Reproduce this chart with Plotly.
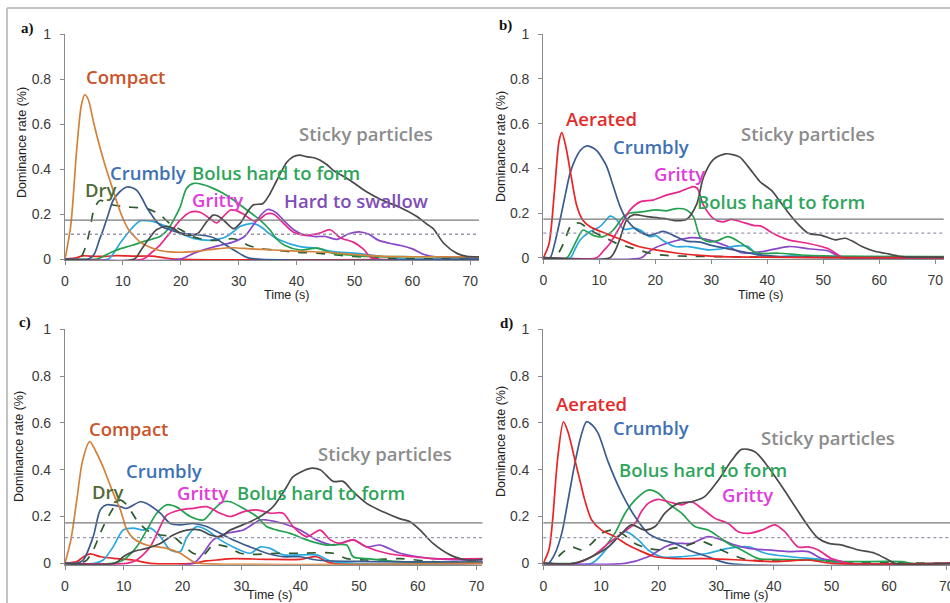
import plotly.graph_objects as go

# ---------------- data (time s, dominance rate) ----------------
# Panel a
A_COMPACT = [(0,0),(1,0.15),(2,0.48),(2.8,0.68),(3.4,0.73),(4,0.71),(5,0.6),(6,0.5),(7,0.41),(8,0.33),(9,0.25),(10,0.18),(11,0.13),(12,0.1),(13,0.075),(14,0.06),(16,0.04),(18,0.032),(20,0.03),(23,0.035),(26,0.045),(29,0.05),(32,0.045),(36,0.04),(40,0.035),(45,0.03),(50,0.02),(55,0.012),(60,0.01),(72,0.01)]
A_DRY = [(0,0),(2.5,0),(3.5,0.05),(4.3,0.13),(5,0.22),(6,0.26),(7,0.255),(8.3,0.24),(10.5,0.232),(12.5,0.228),(14,0.225),(15.5,0.21),(16.5,0.195),(18,0.16),(20,0.13),(22,0.1),(25,0.083),(27,0.085),(29,0.09),(30.5,0.08),(31.5,0.062),(33.5,0.048),(36,0.04),(40,0.03),(44,0.025),(48,0.015),(52,0.008),(56,0.003),(72,0)]
A_CRUMBLY = [(0,0),(4,0),(5,0.02),(6,0.09),(6.6,0.13),(7.5,0.2),(8.3,0.26),(9.5,0.3),(10.7,0.32),(11.5,0.318),(12.4,0.305),(13.3,0.27),(14.1,0.23),(15,0.195),(15.8,0.166),(17,0.14),(18.1,0.13),(19.9,0.115),(23.3,0.107),(25,0.1),(26.2,0.088),(27.3,0.07),(28.5,0.05),(29.6,0.033),(30.8,0.015),(32,0.003),(72,0)]
A_CYAN = [(0,0),(7.5,0),(8.5,0.03),(9.5,0.07),(10.7,0.11),(11.8,0.144),(13,0.17),(14,0.17),(15.3,0.166),(16.5,0.155),(17.6,0.144),(18.8,0.13),(19.9,0.114),(22.2,0.092),(25,0.083),(26.5,0.088),(27.9,0.1),(29,0.12),(30.2,0.144),(31.5,0.155),(32.5,0.158),(34.2,0.137),(35,0.118),(37.1,0.084),(40.6,0.055),(43.5,0.048),(46.3,0.033),(50.5,0.025),(55,0.01),(58,0.002),(72,0)]
A_BOLUS = [(0,0),(5.5,0),(6.5,0.01),(8,0.03),(9.5,0.045),(11.5,0.06),(13.5,0.077),(15,0.088),(16.4,0.1),(17.3,0.118),(18.1,0.144),(19,0.185),(19.9,0.232),(21,0.314),(22.2,0.336),(23.9,0.33),(25.6,0.314),(27.3,0.292),(29.1,0.262),(31.4,0.218),(33.7,0.173),(35.4,0.129),(36.5,0.09),(38,0.06),(40.6,0.04),(43.5,0.048),(46.3,0.025),(49.2,0.018),(52,0.012),(60,0.01),(72,0.01)]
A_GRITTY = [(0,0),(13.5,0),(15,0.03),(16.4,0.062),(18.1,0.115),(19.9,0.173),(21.6,0.208),(23.3,0.208),(25,0.18),(26.2,0.16),(27.2,0.185),(28.6,0.218),(29.6,0.215),(30.8,0.2),(32.5,0.17),(33.5,0.175),(34.8,0.2),(36,0.2),(37.5,0.165),(39.4,0.12),(41.5,0.105),(44,0.115),(45.8,0.13),(47.5,0.095),(49.8,0.075),(51.5,0.045),(53,0.005),(72,0)]
A_STICKY = [(0,0),(12,0),(13,0.035),(14.5,0.09),(15.8,0.13),(17.6,0.145),(18.8,0.135),(19.9,0.115),(21.5,0.105),(23,0.115),(24.3,0.16),(25.6,0.195),(26.5,0.19),(27.5,0.17),(29.1,0.135),(30.3,0.16),(31.4,0.205),(32.5,0.24),(34.2,0.247),(35.4,0.29),(36.6,0.35),(38.3,0.43),(39.4,0.455),(40.5,0.462),(41.7,0.455),(43,0.45),(44,0.44),(45.2,0.42),(46.3,0.395),(49.2,0.35),(52,0.3),(54.9,0.26),(57.8,0.23),(60.7,0.19),(62.5,0.155),(63.6,0.135),(65.4,0.07),(67.7,0.025),(69.4,0.012),(72,0.01)]
A_HARD = [(0,0),(20,0),(22.2,0.025),(24.5,0.045),(27,0.062),(29,0.075),(31,0.1),(32.5,0.15),(34,0.2),(35,0.22),(36.5,0.205),(38,0.165),(39.5,0.13),(41,0.11),(43,0.1),(45,0.1),(47,0.087),(49,0.112),(51,0.12),(52.5,0.11),(54,0.085),(56,0.07),(58,0.06),(60,0.045),(62,0.02),(64,0.01),(72,0.01)]
A_RED = [(0,0),(2,0.005),(3,0.014),(5,0.012),(7,0.012),(9,0.015),(12,0.013),(15,0.013),(17,0.006),(19,0),(72,0)]

# Panel b
B_AERATED = [(0,0),(1,0.06),(2,0.3),(2.8,0.52),(3.3,0.56),(4,0.5),(5,0.36),(6,0.23),(7,0.17),(8.3,0.14),(11,0.11),(14,0.08),(17,0.05),(20,0.035),(24,0.02),(28,0.01),(32,0.005),(72,0)]
B_CRUMBLY = [(0,0),(1.2,0),(2,0.06),(3,0.17),(4,0.29),(4.8,0.38),(5.7,0.44),(6.6,0.48),(7.7,0.5),(8.6,0.495),(9.5,0.48),(10.4,0.45),(11.3,0.41),(12.5,0.32),(13.7,0.23),(14.9,0.17),(16.7,0.124),(19,0.1),(21.4,0.118),(23.2,0.1),(25.6,0.074),(28,0.07),(30,0.055),(34,0.035),(38,0.015),(42,0.005),(72,0)]
B_CYAN = [(0,0),(4.8,0),(5.7,0.04),(6.6,0.08),(8.3,0.116),(10.1,0.139),(11.1,0.165),(11.9,0.186),(13.1,0.17),(14.3,0.128),(15.2,0.128),(16.1,0.132),(17.3,0.124),(19,0.094),(20.2,0.098),(21.2,0.08),(23.5,0.05),(26,0.05),(29.5,0.035),(32,0.04),(34.2,0.052),(36.6,0.05),(38,0.015),(40,0.005),(45,0.008),(50,0.003),(72,0)]
B_BOLUS = [(0,0),(4.2,0),(5,0.03),(6,0.08),(7.1,0.124),(8.9,0.1),(10.7,0.094),(12.5,0.124),(14.3,0.184),(15.5,0.2),(17.9,0.206),(20.2,0.214),(22,0.21),(23.8,0.22),(25.6,0.214),(26.8,0.184),(28,0.094),(29.5,0.072),(31,0.075),(33,0.094),(35.4,0.064),(37,0.035),(38.4,0.02),(42,0.02),(46,0.012),(50,0.008),(72,0.005)]
B_GRITTY = [(0,0),(9.5,0),(10.7,0.03),(11.9,0.064),(13.7,0.139),(15.5,0.214),(17.3,0.25),(19.6,0.258),(22,0.28),(24.4,0.296),(26.8,0.318),(27.5,0.31),(28.6,0.235),(30.4,0.175),(32,0.16),(33.6,0.172),(35.4,0.16),(37.5,0.145),(39,0.14),(40.8,0.112),(43.8,0.08),(47.3,0.064),(50.9,0.04),(52.5,0.015),(53.5,0),(72,0)]
B_STICKY = [(0,0),(11.9,0),(12.8,0.03),(13.7,0.085),(14.9,0.17),(16.1,0.192),(18.5,0.184),(21.4,0.176),(23.8,0.166),(25.6,0.172),(27.4,0.24),(28.6,0.36),(30.4,0.44),(32.5,0.465),(34,0.46),(35.1,0.45),(36.5,0.41),(37.5,0.378),(38.7,0.34),(40.8,0.3),(42.3,0.25),(43.8,0.2),(45.5,0.15),(47.3,0.11),(49.7,0.1),(52.1,0.08),(53.9,0.087),(55.5,0.07),(56.9,0.05),(59,0.03),(61,0.02),(64,0.005),(72,0.003)]
B_DRY = [(0,0),(1.8,0),(2.8,0.025),(3.6,0.064),(4.8,0.139),(5.4,0.154),(6.6,0.154),(8.3,0.124),(10.7,0.094),(13.1,0.064),(16.1,0.042),(19,0.02),(22,0.01),(30,0.005),(72,0)]
B_PURPLE = [(0,0),(17.5,0),(18.5,0.02),(20,0.045),(23.5,0.075),(26.5,0.09),(29.5,0.08),(33,0.05),(35.4,0.022),(39,0.027),(43.8,0.05),(47.3,0.04),(50.9,0.03),(53.3,0.002),(72,0)]

# Panel c
C_COMPACT = [(0,0),(1,0.1),(2,0.27),(3,0.44),(4.2,0.52),(5.2,0.48),(6.5,0.41),(8.2,0.3),(9.4,0.23),(10.5,0.145),(11.6,0.107),(13.9,0.078),(17.3,0.064),(19.6,0.043),(21.8,0.007),(23,0),(72,0)]
C_CRUMBLY = [(0,0),(2,0),(3.1,0.014),(4.8,0.114),(6,0.228),(7.1,0.25),(9.4,0.242),(10.5,0.235),(12.8,0.263),(13.9,0.256),(16.2,0.214),(17.9,0.17),(19.6,0.164),(21.8,0.17),(24.1,0.157),(26.4,0.128),(28.6,0.1),(31.5,0.07),(34.3,0.043),(37.1,0.028),(40,0.028),(42.8,0.014),(50,0.008),(72,0.005)]
C_DRY = [(0,0),(2.5,0),(3.7,0.014),(4.8,0.057),(6.5,0.157),(8.2,0.235),(9.4,0.27),(10.5,0.25),(12.2,0.185),(13.9,0.142),(16.2,0.121),(18.4,0.114),(20.1,0.078),(21.8,0.043),(23.5,0.035),(25.2,0.078),(27.5,0.071),(29.8,0.043),(32,0.038),(36,0.042),(40,0.043),(45.6,0.043),(47.9,0.02),(51.3,0.014),(57,0.02),(62.6,0.007),(72,0.005)]
C_CYAN = [(0,0),(5,0),(6.5,0.014),(8.2,0.071),(9.9,0.142),(11.6,0.15),(13.3,0.142),(14.5,0.15),(16.2,0.114),(17.9,0.057),(19.6,0.05),(20.7,0.11),(22.4,0.157),(24.1,0.142),(26.4,0.1),(28.6,0.07),(31.5,0.043),(33.2,0.07),(34.9,0.064),(37.1,0.036),(42.8,0.036),(45.6,0.007),(72,0)]
C_BOLUS = [(0,0),(8,0),(9.9,0.014),(12.2,0.071),(13.9,0.142),(15.6,0.214),(17.3,0.25),(19,0.24),(21.3,0.2),(23.5,0.185),(25.2,0.228),(26.9,0.263),(28.1,0.263),(30.3,0.235),(32.6,0.2),(34.3,0.157),(36,0.142),(38.3,0.128),(41.1,0.1),(44.5,0.078),(47.9,0.078),(49,0.028),(51.3,0.02),(57,0.007),(72,0.005)]
C_GRITTY = [(0,0),(10.5,0),(12.2,0.014),(14.5,0.071),(16.2,0.157),(17.3,0.206),(19.6,0.228),(21.8,0.235),(24.1,0.242),(26.4,0.214),(28.1,0.2),(30.3,0.22),(32.6,0.228),(34.9,0.214),(37.1,0.214),(38.8,0.157),(41.1,0.114),(43.4,0.142),(45.1,0.1),(46.8,0.085),(49,0.1),(51.3,0.07),(54.7,0.043),(59.2,0.028),(62.6,0.02),(72,0.02)]
C_STICKY = [(0,0),(8.5,0),(9.9,0.028),(11.6,0.05),(13.9,0.064),(16.2,0.085),(18.4,0.121),(20.7,0.142),(23,0.142),(24.7,0.121),(26.4,0.114),(28.1,0.142),(30.9,0.171),(33.2,0.2),(35.4,0.242),(37.7,0.327),(38.8,0.37),(41.7,0.406),(43.4,0.4),(45.6,0.35),(47.3,0.35),(49,0.306),(51.3,0.256),(54.1,0.22),(57,0.19),(58.7,0.178),(60.4,0.142),(62.6,0.085),(65.5,0.036),(68.3,0.014),(72,0.02)]
C_PURPLE = [(0,0),(21.8,0),(23.5,0.043),(25.2,0.1),(27.5,0.128),(30.3,0.142),(33.2,0.185),(34.3,0.185),(37.1,0.17),(40,0.142),(42.8,0.1),(45.6,0.078),(49,0.1),(51.3,0.07),(53.6,0.078),(57,0.043),(62.6,0.02),(72,0.014)]
C_RED = [(0,0),(2,0.007),(3,0.025),(4.3,0.04),(6,0.028),(8.8,0.02),(11.6,0.014),(14.5,0),(21.8,0),(24,0.01),(25.8,0.014),(28.6,0.02),(34.3,0.017),(40,0.017),(42.8,0.028),(45,0.003),(72,0)]

# Panel d
D_AERATED = [(0,0),(1,0.06),(1.6,0.18),(2.5,0.45),(3.5,0.605),(4.3,0.56),(5.5,0.44),(6.4,0.35),(7.2,0.27),(8.4,0.185),(10.1,0.142),(12.4,0.114),(14.7,0.078),(17.1,0.05),(19.4,0.028),(22.8,0.02),(28.6,0.02),(34.4,0.014),(40.2,0.007),(46,0.014),(50,0),(72,0)]
D_CRUMBLY = [(0,0),(0.9,0),(2,0.04),(3.2,0.128),(4.3,0.27),(5.5,0.43),(6.5,0.54),(7.5,0.605),(8.5,0.59),(9.5,0.556),(11.3,0.43),(13.6,0.3),(15.9,0.2),(18.2,0.128),(20.5,0.1),(22.8,0.085),(25.2,0.057),(28.6,0.028),(32.1,0),(72,0)]
D_BOLUS = [(0,0),(4.9,0),(7.2,0.014),(10.1,0.057),(12.4,0.128),(14.2,0.214),(15.9,0.27),(18.2,0.313),(19.9,0.3),(21.7,0.256),(24,0.214),(26.3,0.157),(28.6,0.142),(30.4,0.114),(32.1,0.085),(34.4,0.057),(37.3,0.02),(40.2,0.017),(46,0.014),(51.8,0.007),(62.2,0.007),(64,0),(72,0)]
D_GRITTY = [(0,0),(5.5,0),(8.4,0.028),(11.3,0.085),(13.6,0.128),(15.9,0.17),(17,0.22),(18.2,0.256),(19.9,0.273),(21.7,0.263),(24,0.25),(25.7,0.263),(27.5,0.235),(29.8,0.192),(32.1,0.17),(33.8,0.135),(35.6,0.128),(37.9,0.142),(40.2,0.164),(41.9,0.135),(44.2,0.07),(46,0.07),(47.7,0.057),(50,0.02),(51.8,0.007),(53,0),(72,0)]
D_STICKY = [(0,0),(5.5,0),(8.4,0.028),(11.3,0.07),(13.6,0.128),(15.3,0.164),(17.6,0.142),(19.4,0.157),(21.1,0.214),(23.4,0.256),(25.7,0.263),(28,0.285),(30.4,0.356),(32.7,0.44),(34.4,0.487),(36.7,0.477),(39,0.413),(41.4,0.328),(43.7,0.242),(46,0.157),(47.7,0.107),(49.5,0.085),(51.8,0.078),(54.7,0.057),(57.5,0.043),(59.9,0.014),(61,0),(72,0)]
D_PURPLE = [(0,0),(14.2,0),(18.2,0.028),(21.1,0.07),(22.8,0.085),(25.7,0.085),(28.6,0.114),(30.9,0.1),(33.3,0.078),(35.6,0.064),(39,0.057),(42.5,0.05),(46,0.05),(48.3,0.02),(51.8,0.007),(53,0),(72,0)]
D_CYAN = [(0,0),(8.4,0),(11.3,0.07),(14.2,0.135),(16.5,0.1),(18.2,0.057),(20.5,0.028),(24,0.028),(28.6,0.043),(32.1,0.064),(35.6,0.07),(38.5,0.043),(42.9,0.028),(48.9,0.014),(52,0),(72,0)]
D_DRY = [(0,0),(1.4,0),(3.2,0.043),(4.9,0.07),(6.7,0.057),(8.4,0.085),(10.1,0.128),(11.9,0.142),(13.6,0.128),(15.9,0.085),(18.2,0.064),(20.5,0.057),(24,0.07),(27.5,0.093),(29.8,0.07),(32.1,0.043),(35.6,0.014),(40.2,0.014),(46,0.014),(52,0.005),(72,0)]

REF_SOLID = 0.173
REF_DOTTED = 0.11

# curve labels: (text, time, value, colour)
A_LABELS = [("Compact",10.5,0.81,"#C9532B"),("Dry",6.3,0.307,"#4F6A36"),("Crumbly",14.4,0.384,"#3E71B5"),
            ("Bolus hard to form",36.4,0.384,"#2EA55B"),("Gritty",26.3,0.265,"#E03CDB"),
            ("Hard to swallow",50.2,0.262,"#7F4DB8"),("Sticky particles",51.9,0.558,"#8C8C8C")]
B_LABELS = [("Aerated",10.4,0.624,"#E32B2B"),("Crumbly",19.3,0.497,"#3E71B5"),("Gritty",24.4,0.378,"#E03CDB"),
            ("Bolus hard to form",42.4,0.251,"#2EA55B"),("Sticky particles",47.2,0.557,"#8C8C8C")]
C_LABELS = [("Compact",10.8,0.577,"#C9532B"),("Dry",7.3,0.306,"#4F6A36"),("Crumbly",16.8,0.396,"#3E71B5"),
            ("Gritty",23.3,0.302,"#E03CDB"),("Bolus hard to form",43.5,0.302,"#2EA55B"),
            ("Sticky particles",54.4,0.47,"#8C8C8C")]
D_LABELS = [("Aerated",8.3,0.684,"#E32B2B"),("Crumbly",18.7,0.581,"#3E71B5"),("Bolus hard to form",27.7,0.399,"#2EA55B"),
            ("Gritty",35.4,0.295,"#E03CDB"),("Sticky particles",49.4,0.538,"#8C8C8C")]

# ---------------- styles ----------------
COL = dict(compact="#D4813A", dry="#2F5A2F", crumbly="#3B5B8F", bolus="#22A24F", gritty="#E8278A",
           sticky="#4A4A4A", hard="#8A45C8", cyan="#29A9DF", red="#E82424", aerated="#E82424")

PANELS = [
    dict(tag="a)", series=[(A_RED,"red"),(A_CYAN,"cyan"),(A_HARD,"hard"),(A_DRY,"dry"),(A_BOLUS,"bolus"),
                           (A_GRITTY,"gritty"),(A_CRUMBLY,"crumbly"),(A_COMPACT,"compact"),(A_STICKY,"sticky")],
         labels=A_LABELS, x0=65, pxs=5.79, xmax=71.5, y0=259, y1=34,
         tagpos=(27,28), ytitle=(22,143), xtitle=(286,295)),
    dict(tag="b)", series=[(B_PURPLE,"hard"),(B_CYAN,"cyan"),(B_DRY,"dry"),(B_BOLUS,"bolus"),(B_GRITTY,"gritty"),
                           (B_CRUMBLY,"crumbly"),(B_AERATED,"aerated"),(B_STICKY,"sticky")],
         labels=B_LABELS, x0=543.3, pxs=5.6, xmax=71.5, y0=257.7, y1=34.3,
         tagpos=(505,25), ytitle=(501,147), xtitle=(760,295)),
    dict(tag="c)", series=[(C_RED,"red"),(C_CYAN,"cyan"),(C_PURPLE,"hard"),(C_DRY,"dry"),(C_BOLUS,"bolus"),
                           (C_GRITTY,"gritty"),(C_CRUMBLY,"crumbly"),(C_COMPACT,"compact"),(C_STICKY,"sticky")],
         labels=C_LABELS, x0=65, pxs=5.88, xmax=71, y0=563.3, y1=329.3,
         tagpos=(25,322), ytitle=(19,447), xtitle=(269,595)),
    dict(tag="d)", series=[(D_CYAN,"cyan"),(D_PURPLE,"hard"),(D_DRY,"dry"),(D_BOLUS,"bolus"),(D_GRITTY,"gritty"),
                           (D_CRUMBLY,"crumbly"),(D_AERATED,"aerated"),(D_STICKY,"sticky")],
         labels=D_LABELS, x0=543.3, pxs=5.763, xmax=70.57, y0=563.3, y1=329.3,
         tagpos=(506,323), ytitle=(501,442), xtitle=(745,595)),
]

W, H = 950, 603
YMIN = -0.006
fig = go.Figure()
layout = dict(width=W, height=H, margin=dict(l=0, r=0, t=0, b=0, autoexpand=False), paper_bgcolor="white",
              plot_bgcolor="rgba(0,0,0,0)", showlegend=False)
annotations = []
shapes = []
AXCOL = "#8a8a8a"
TICKFONT = dict(family="Liberation Sans, Arial", size=14, color="#3a3a3a")

for i, p in enumerate(PANELS, start=1):
    xs = "" if i == 1 else str(i)
    xd = [p["x0"] / W, min(1.0, (p["x0"] + p["pxs"] * p["xmax"]) / W)]
    unit = p["y0"] - p["y1"]
    bottom = p["y0"] - YMIN * unit
    yd = [1 - bottom / H, 1 - p["y1"] / H]
    layout["xaxis" + xs] = dict(domain=xd, range=[0, p["xmax"]], anchor="y" + xs, dtick=10, tick0=0,
                                showline=True, linecolor=AXCOL, linewidth=1.2, ticks="outside", ticklen=4,
                                tickcolor=AXCOL, tickfont=TICKFONT, showgrid=False, zeroline=False,
                                ticklabelstandoff=4, ticklabeloverflow="allow", automargin=False)
    layout["yaxis" + xs] = dict(domain=yd, range=[YMIN, 1.0], anchor="x" + xs, tickvals=[0, 0.2, 0.4, 0.6, 0.8, 1],
                                ticktext=["0", "0.2", "0.4", "0.6", "0.8", "1"],
                                showline=True, linecolor=AXCOL, linewidth=1.2, ticks="outside", ticklen=4,
                                tickcolor=AXCOL, tickfont=TICKFONT, showgrid=False, zeroline=False,
                                ticklabelstandoff=6, automargin=False)
    # reference lines
    shapes.append(dict(type="line", xref="x" + xs + " domain", yref="y" + xs, x0=0, x1=1,
                       y0=REF_SOLID, y1=REF_SOLID, line=dict(color="#7a7a7a", width=1.3)))
    shapes.append(dict(type="line", xref="x" + xs + " domain", yref="y" + xs, x0=0, x1=1,
                       y0=REF_DOTTED, y1=REF_DOTTED, line=dict(color="#9a96b0", width=1.3, dash="dot")))
    for pts, key in p["series"]:
        fig.add_trace(go.Scatter(x=[q[0] for q in pts], y=[q[1] for q in pts], mode="lines",
                                 xaxis="x" + xs, yaxis="y" + xs, hoverinfo="skip",
                                 line=dict(color=COL[key], width=1.7, shape="spline", smoothing=0.8,
                                           dash="dash" if key == "dry" else "solid")))
    for txt, tx, ty, c in p["labels"]:
        annotations.append(dict(text=txt, x=tx, y=ty, xref="x" + xs, yref="y" + xs, showarrow=False,
                                xanchor="center", yanchor="middle",
                                font=dict(family="Open Sans", size=18.5, color=c, weight=600)))
    annotations.append(dict(text=p["tag"], x=p["tagpos"][0] / W, y=1 - p["tagpos"][1] / H, xref="paper",
                            yref="paper", showarrow=False, xanchor="center", yanchor="middle",
                            font=dict(family="Liberation Serif", size=15, color="#111", weight="bold")))
    annotations.append(dict(text="Dominance rate (%)", x=p["ytitle"][0] / W, y=1 - p["ytitle"][1] / H,
                            xref="paper", yref="paper", showarrow=False, textangle=-90,
                            xanchor="center", yanchor="middle",
                            font=dict(family="Liberation Sans, Arial", size=12.5, color="#222")))
    annotations.append(dict(text="Time (s)", x=p["xtitle"][0] / W, y=1 - p["xtitle"][1] / H,
                            xref="paper", yref="paper", showarrow=False, xanchor="center", yanchor="middle",
                            font=dict(family="Liberation Sans, Arial", size=12.5, color="#222")))

# outer frame
shapes.append(dict(type="line", xref="paper", yref="paper", x0=7 / W, x1=1, y0=1 - 8 / H, y1=1 - 8 / H,
                   line=dict(color="#c4c4c4", width=2)))
shapes.append(dict(type="line", xref="paper", yref="paper", x0=7 / W, x1=7 / W, y0=0, y1=1 - 8 / H,
                   line=dict(color="#c4c4c4", width=2)))

layout["annotations"] = annotations
layout["shapes"] = shapes
fig.update_layout(**layout)
fig.write_html("out.html", post_script="document.body.style.margin='0';")
